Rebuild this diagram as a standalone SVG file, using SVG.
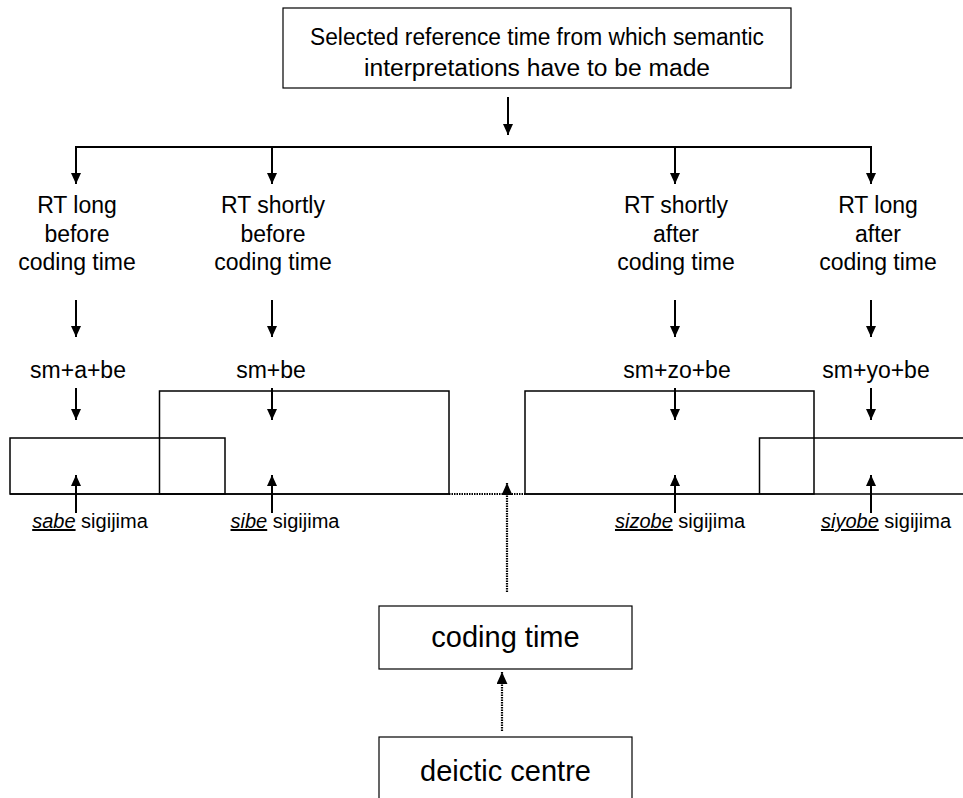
<svg xmlns="http://www.w3.org/2000/svg" width="963" height="798" viewBox="0 0 963 798">
<style>
.box{fill:#fff;stroke:#000;stroke-width:1.2}
.frame{fill:none;stroke:#000;stroke-width:1.5}
.t{font-family:"Liberation Sans",Arial,sans-serif;fill:#000;text-anchor:middle}
.lab{font-size:23px}
.sm{font-size:20px}
.big{font-size:29px}
.ar{stroke:#000;stroke-width:2;fill:none}
.dot{stroke:#000;stroke-width:2.2;fill:none;stroke-dasharray:1.5 1}
.u{font-style:italic;text-decoration:underline}
</style>
<defs>
<marker id="ah" viewBox="0 0 11 10" refX="11" refY="5" markerWidth="5.5" markerHeight="5" orient="auto" markerUnits="strokeWidth">
<path d="M0,0 L11,5 L0,10 z" fill="#000"/>
</marker>
</defs>
<g id="top">
<rect class="box" x="283" y="8" width="508" height="80"/>
<text class="t" x="537" y="45" font-size="23.5" textLength="454" lengthAdjust="spacingAndGlyphs">Selected reference time from which semantic</text>
<text class="t" x="537" y="76" font-size="23.5" textLength="346" lengthAdjust="spacingAndGlyphs">interpretations have to be made</text>
</g>
<g id="col1">
<text class="t lab" x="77" y="213">RT long</text>
<text class="t lab" x="77" y="242">before</text>
<text class="t lab" x="77" y="270">coding time</text>
<text class="t lab" x="78" y="378">sm+a+be</text>
</g>
<g id="col2">
<text class="t lab" x="273" y="213">RT shortly</text>
<text class="t lab" x="273" y="242">before</text>
<text class="t lab" x="273" y="270">coding time</text>
<text class="t lab" x="271" y="378">sm+be</text>
</g>
<g id="col3">
<text class="t lab" x="676" y="213">RT shortly</text>
<text class="t lab" x="676" y="242">after</text>
<text class="t lab" x="676" y="270">coding time</text>
<text class="t lab" x="677" y="378">sm+zo+be</text>
</g>
<g id="col4">
<text class="t lab" x="878" y="213">RT long</text>
<text class="t lab" x="878" y="242">after</text>
<text class="t lab" x="878" y="270">coding time</text>
<text class="t lab" x="876" y="378">sm+yo+be</text>
</g>
<g id="timeline">
<rect class="frame" x="10" y="438" width="215" height="56"/>
<rect class="frame" x="159.5" y="391" width="289.5" height="103"/>
<rect class="frame" x="525" y="391" width="289" height="103"/>
<path class="frame" d="M965,438 H759.5 V494"/>
<path class="frame" d="M10,494 H449 M525,494 H965"/>
<path class="dot" d="M449,494 H525" stroke-width="1.5"/>
</g>
<g id="labels">
<text class="t sm" x="90" y="528"><tspan class="u">sabe</tspan> sigijima</text>
<text class="t sm" x="285" y="528"><tspan class="u">sibe</tspan> sigijima</text>
<text class="t sm" x="680" y="528"><tspan class="u">sizobe</tspan> sigijima</text>
<text class="t sm" x="886" y="528"><tspan class="u">siyobe</tspan> sigijima</text>
</g>
<g id="coding">
<rect class="box" x="379" y="606" width="253" height="63"/>
<text class="t big" x="505.5" y="647">coding time</text>
</g>
<g id="deictic">
<rect class="box" x="379" y="737" width="253" height="70"/>
<text class="t big" x="505.5" y="781">deictic centre</text>
</g>
<g id="connectors">
<path class="ar" d="M508,97 V135" marker-end="url(#ah)"/>
<path class="ar" d="M75,147 H872"/>
<path class="ar" d="M76,147 V184" marker-end="url(#ah)"/>
<path class="ar" d="M272,147 V184" marker-end="url(#ah)"/>
<path class="ar" d="M675,147 V184" marker-end="url(#ah)"/>
<path class="ar" d="M871,147 V184" marker-end="url(#ah)"/>
<path class="ar" d="M76,300 V337" marker-end="url(#ah)"/>
<path class="ar" d="M272,300 V337" marker-end="url(#ah)"/>
<path class="ar" d="M675,300 V337" marker-end="url(#ah)"/>
<path class="ar" d="M871,300 V337" marker-end="url(#ah)"/>
<path class="ar" d="M76,388 V420" marker-end="url(#ah)"/>
<path class="ar" d="M272,388 V420" marker-end="url(#ah)"/>
<path class="ar" d="M675,388 V420" marker-end="url(#ah)"/>
<path class="ar" d="M871,388 V420" marker-end="url(#ah)"/>
<path class="ar" d="M76,513 V475" marker-end="url(#ah)"/>
<path class="ar" d="M272,513 V475" marker-end="url(#ah)"/>
<path class="ar" d="M675,513 V475" marker-end="url(#ah)"/>
<path class="ar" d="M871,513 V475" marker-end="url(#ah)"/>
<path class="dot" d="M507,592 V483" marker-end="url(#ah)"/>
<path class="dot" d="M502,731 V672" marker-end="url(#ah)"/>
</g>
</svg>
